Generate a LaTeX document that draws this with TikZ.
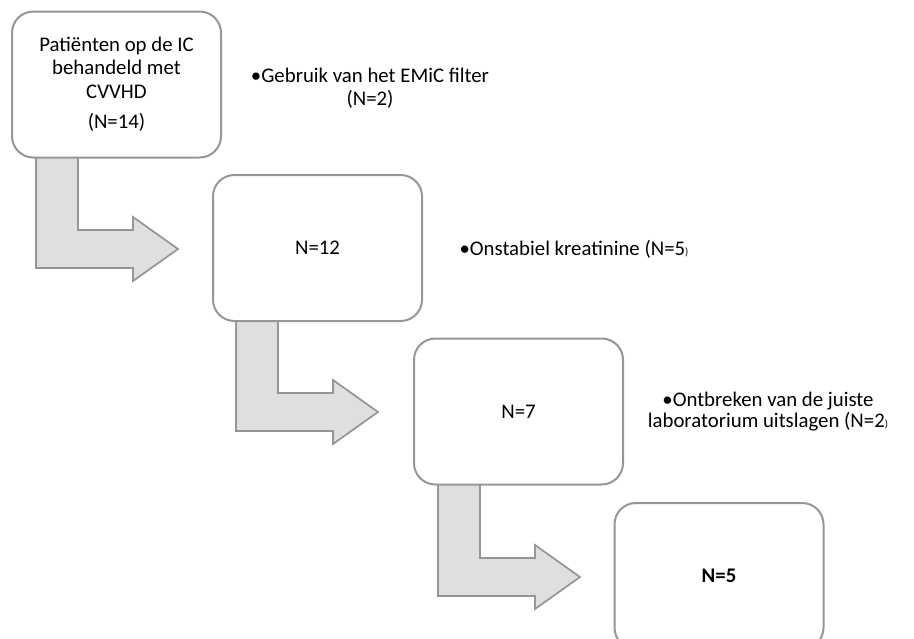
\documentclass[tikz,border=0pt]{standalone}
\usepackage{fontspec}
\setmainfont{Carlito}

\definecolor{boxline}{RGB}{150,150,150}
\definecolor{arrowfill}{RGB}{223,223,223}

\tikzset{every picture/.style={line width=1.5pt}}
\tikzset{
  box/.style={draw=boxline, fill=white, rounded corners=16pt, minimum width=156.75pt, minimum height=109.5pt, align=center, font=\fontsize{15.6}{16}\selectfont},
  bentarrow/.style={draw=boxline, fill=arrowfill, line width=1.3pt, line join=miter},
  note/.style={align=center, font=\fontsize{15.6}{16}\selectfont}
}

\begin{document}
\begin{tikzpicture}[x=0.75pt,y=0.75pt,yscale=-1,xscale=1]
	\useasboundingbox (0,0) rectangle (914,639);
	\clip (0,0) rectangle (914,639);

	%Shape: Bent Arrow [id:arrow1]
	\draw [bentarrow] (36,155) -- (78,155) -- (78,230) -- (133,230) -- (133,217) -- (178,249) -- (133,281) -- (133,268) -- (36,268) -- cycle ;
	%Shape: Bent Arrow [id:arrow2]
	\draw [bentarrow] (236,320) -- (278,320) -- (278,393) -- (333,393) -- (333,380) -- (378,412) -- (333,444) -- (333,431) -- (236,431) -- cycle ;
	%Shape: Bent Arrow [id:arrow3]
	\draw [bentarrow] (438,483) -- (480,483) -- (480,558) -- (535,558) -- (535,545) -- (580,577) -- (535,609) -- (535,596) -- (438,596) -- cycle ;

	% Box Nodes
	\node [box] (total) at (116.5,84.5) {Patiënten op de IC\\[1.5pt]behandeld met\\[1.5pt]CVVHD\\[7pt](N=14)};
	\node [box] (nA) at (317.5,248) {N=12};
	\node [box] (nB) at (518.5,411.5) {N=7};
	\node [box] (nC) at (719,576) {\textbf{N=5}};

	% Text Node
	\node [note] (emic) at (370,88) {•Gebruik van het EMiC filter\\[1pt](N=2)};
	% Text Node
	\node [note] (kreat) at (574,249) {•Onstabiel kreatinine (N=5{\footnotesize)}};
	% Text Node
	\node [note] (labo) at (768,411.5) {•Ontbreken van de juiste\\[0pt]laboratorium uitslagen (N=2{\footnotesize)}};

\end{tikzpicture}
\end{document}
